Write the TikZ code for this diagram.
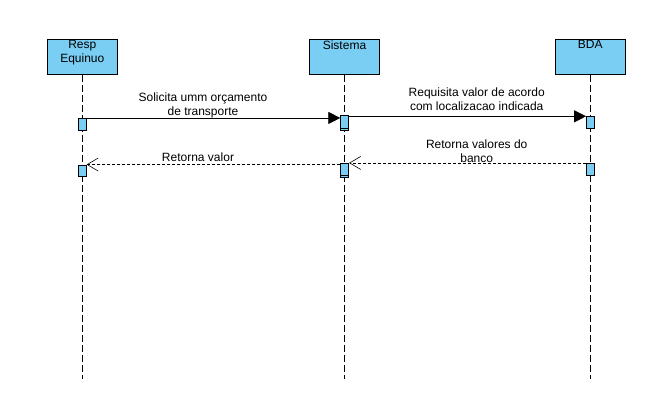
\documentclass[tikz,border=0pt]{standalone}
\usepackage{fontspec}
\setmainfont{Liberation Sans}
\usetikzlibrary{arrows.meta}
\definecolor{boxBlue}{RGB}{122,206,244}

\begin{document}
\begin{tikzpicture}[x=1pt,y=-1pt,
	lifeBox/.style={shape=rectangle, draw=black, fill=boxBlue, line width=1pt, minimum width=70pt, minimum height=35pt, inner sep=0pt},
	actBox/.style={shape=rectangle, draw=black, fill=boxBlue, line width=0.8pt, minimum width=8pt, inner sep=0pt},
	lifeLine/.style={draw=black, line width=0.8pt, dash pattern=on 7pt off 3pt},
	callMsg/.style={draw=black, line width=0.8pt, -{Triangle[length=12pt,width=12pt]}},
	retMsg/.style={draw=black, line width=0.6pt, dash pattern=on 3pt off 2pt, -{Straight Barb[length=11pt,width=13pt]}},
	msgText/.style={align=center, font=\fontsize{12}{14}\selectfont, inner sep=0pt}]
\useasboundingbox (0,0) rectangle (647,419);

% lifelines
\node [lifeBox] (resp) at (82.3,56.7) {};
\node [lifeBox] (sis) at (344.5,56.7) {};
\node [lifeBox] (bda) at (590.3,56.7) {};
\node [msgText, anchor=north] (respTxt) at ([yshift=-1.5pt]resp.north) {Resp\\Equinuo};
\node [msgText, anchor=north] (sisTxt) at ([yshift=-1.5pt]sis.north) {Sistema};
\node [msgText, anchor=north] (bdaTxt) at ([yshift=-1.5pt]bda.north) {BDA};
\coordinate (bottom) at (0,379);
\draw [lifeLine] (resp.south) -- (resp.south |- bottom);
\draw [lifeLine] (sis.south) -- (sis.south |- bottom);
\draw [lifeLine] (bda.south) -- (bda.south |- bottom);

% activations
\node [actBox, minimum height=11.7pt] (respA1) at (82.2,124.2) {};
\node [actBox, minimum height=11.7pt] (respA2) at (82.2,170.8) {};
\node [actBox, minimum height=15pt] (sisA1) at (344.7,123.2) {};
\node [actBox, minimum height=14pt] (sisA2) at (344.7,170.3) {};
\node [actBox, minimum height=11.6pt] (bdaA1) at (590.5,122.5) {};
\node [actBox, minimum height=11.7pt] (bdaA2) at (590.5,169.2) {};
\draw [line width=0.8pt] ([yshift=2.4pt]sisA1.south west) -- ([yshift=2.4pt]sisA1.south east);
\draw [line width=0.8pt] ([yshift=2.4pt]sisA2.south west) -- ([yshift=2.4pt]sisA2.south east);

% messages
\draw [callMsg] (respA1.north east) -- (sisA1.west |- respA1.north east);
\draw [callMsg] (sisA1.east |- bdaA1.north west) -- (bdaA1.north west);
\draw [retMsg] (bdaA2.north west) -- (sisA2.east |- bdaA2.north west);
\draw [retMsg] (sisA2.west |- respA2.north east) -- (respA2.north east);
\node [msgText] (msg1Txt) at (203,105) {Solicita umm orçamento\\de transporte};
\node [msgText] (ret1Txt) at (198,157.7) {Retorna valor};
\node [msgText] (msg2Txt) at (476.7,99) {Requisita valor de acordo\\com localizacao indicada};
\node [msgText] (ret2Txt) at (476.7,150.8) {Retorna valores do\\banco};
\end{tikzpicture}
\end{document}
